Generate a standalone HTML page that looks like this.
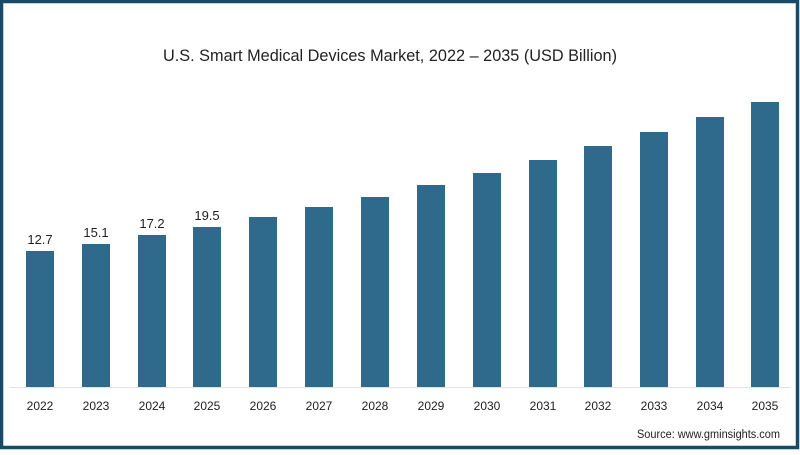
<!DOCTYPE html>
<html><head><meta charset="utf-8"><style>
html,body{margin:0;padding:0;}
body{width:800px;height:450px;overflow:hidden;background:#fff;}
</style></head><body>
<svg width="800" height="450" xmlns="http://www.w3.org/2000/svg" font-family="Liberation Sans, sans-serif">
<rect x="1.5" y="1.5" width="796" height="446" fill="#fff" stroke="#174a66" stroke-width="3.5"/>
<text x="163" y="61" font-size="17" fill="#222" textLength="454" lengthAdjust="spacingAndGlyphs">U.S. Smart Medical Devices Market, 2022 – 2035 (USD Billion)</text>
<line x1="10" y1="387.5" x2="790" y2="387.5" stroke="#e2e2e2" stroke-width="1"/>
<g fill="#2f6a8d">
<rect x="26" y="251" width="28" height="136"/>
<rect x="82" y="244" width="28" height="143"/>
<rect x="138" y="235" width="28" height="152"/>
<rect x="193" y="227" width="28" height="160"/>
<rect x="249" y="217" width="28" height="170"/>
<rect x="305" y="207" width="28" height="180"/>
<rect x="361" y="197" width="28" height="190"/>
<rect x="417" y="185" width="28" height="202"/>
<rect x="473" y="173" width="28" height="214"/>
<rect x="529" y="160" width="28" height="227"/>
<rect x="584" y="146" width="28" height="241"/>
<rect x="640" y="132" width="28" height="255"/>
<rect x="696" y="117" width="28" height="270"/>
<rect x="751" y="102" width="28" height="285"/>
</g>
<g font-size="13" fill="#222" text-anchor="middle">
<text x="40" y="244">12.7</text>
<text x="96" y="237">15.1</text>
<text x="152" y="228">17.2</text>
<text x="207" y="220">19.5</text>
</g>
<g font-size="12" fill="#222" text-anchor="middle">
<text x="40" y="410">2022</text><text x="96" y="410">2023</text><text x="152" y="410">2024</text><text x="207" y="410">2025</text>
<text x="263" y="410">2026</text><text x="319" y="410">2027</text><text x="375" y="410">2028</text><text x="431" y="410">2029</text>
<text x="487" y="410">2030</text><text x="543" y="410">2031</text><text x="598" y="410">2032</text><text x="654" y="410">2033</text>
<text x="710" y="410">2034</text><text x="765" y="410">2035</text>
</g>
<text x="780" y="438" text-anchor="end" font-size="11.5" fill="#222" textLength="143" lengthAdjust="spacingAndGlyphs">Source: www.gminsights.com</text>
</svg>
</body></html>
